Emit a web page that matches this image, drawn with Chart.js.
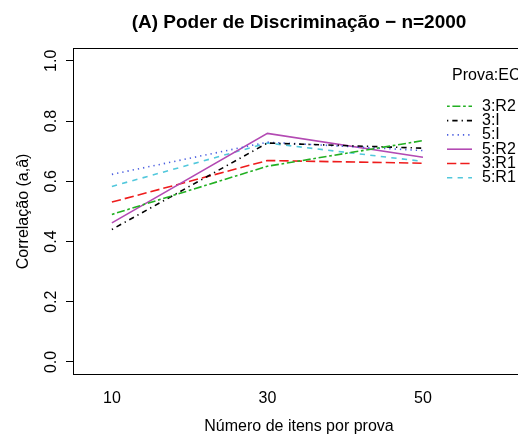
<!DOCTYPE html>
<html>
<head>
<meta charset="utf-8">
<script src="https://cdn.jsdelivr.net/npm/chart.js@4/dist/chart.umd.min.js"></script>
<style>
  html, body { margin: 0; padding: 0; overflow: hidden; background: #fff; }
</style>
</head>
<body>
<canvas id="chart" width="525" height="436"></canvas>
<script>
// data
const itemCounts = ["10", "30", "50"];
const groups = ["3:R2", "3:I", "5:I", "5:R2", "3:R1", "5:R1"];
const r2Prova3 = [0.49, 0.65, 0.735];
const iProva3 = [0.44, 0.727, 0.71];
const iProva5 = [0.623, 0.73, 0.702];
const r2Prova5 = [0.462, 0.759, 0.68];
const r1Prova3 = [0.531, 0.669, 0.66];
const r1Prova5 = [0.583, 0.727, 0.666];
const yTicks = [0, 0.2, 0.4, 0.6, 0.8, 1.0];

const series = [r2Prova3, iProva3, iProva5, r2Prova5, r1Prova3, r1Prova5];
const colors = ["#22b022", "#000000", "#4a5ee0", "#b34ab3", "#ee1c1c", "#52c8dc"];
const dashes = [[2.7, 2.7, 8, 2.7], [1.3, 4, 5.3, 4], [1.3, 4], [], [9.3, 4], [5.3, 5.3]];

const font = "'Liberation Sans', Arial, Helvetica, sans-serif";
Chart.defaults.font.family = font;
Chart.defaults.color = "#000";

// legend drawn like R's interaction.plot legend (inside the plot, top right)
const rLegend = {
  id: "rLegend",
  afterDraw(chart) {
    const { ctx, chartArea } = chart;
    const x0 = chartArea.left + 374;
    ctx.save();
    ctx.font = "16px " + font;
    ctx.fillStyle = "#000";
    ctx.textBaseline = "middle";
    ctx.textAlign = "left";
    ctx.fillText("Prova:EC", x0 + 5, chartArea.top + 27);
    chart.data.datasets.forEach((ds, i) => {
      const y = chartArea.top + 57.5 + i * 14.3;
      ctx.strokeStyle = ds.borderColor;
      ctx.lineWidth = ds.borderWidth;
      ctx.setLineDash(ds.borderDash);
      ctx.beginPath();
      ctx.moveTo(x0, y);
      ctx.lineTo(x0 + 25, y);
      ctx.stroke();
      ctx.setLineDash([]);
      ctx.fillText(ds.label, x0 + 35, y);
    });
    ctx.restore();
  }
};

new Chart(document.getElementById("chart"), {
  type: "line",
  data: {
    datasets: groups.map((g, k) => ({
      label: g,
      data: itemCounts.map((c, i) => ({ x: i + 1, y: series[k][i] })),
      borderColor: colors[k],
      borderWidth: 1.6,
      borderDash: dashes[k],
      pointRadius: 0,
      tension: 0,
      fill: false
    }))
  },
  options: {
    responsive: false,
    animation: false,
    layout: { padding: 0 },
    plugins: {
      legend: { display: false },
      tooltip: { enabled: false },
      title: {
        display: true,
        fullSize: false,
        text: "(A) Poder de Discriminação − n=2000",
        font: { size: 19, weight: "bold" },
        color: "#000",
        padding: { top: 11, bottom: 15 }
      }
    },
    scales: {
      x: {
        type: "linear",
        min: 0.75,
        max: 3.656,
        afterBuildTicks: (s) => { s.ticks = itemCounts.map((c, i) => ({ value: i + 1 })); },
        afterFit: (s) => { s.height = 62; },
        ticks: {
          callback: (v) => itemCounts[v - 1],
          font: { size: 16 },
          padding: 7,
          maxRotation: 0
        },
        grid: { display: false },
        border: { color: "#000", width: 1 },
        title: {
          display: true,
          text: "Número de itens por prova",
          font: { size: 16 },
          padding: { top: 0, bottom: 0 }
        }
      },
      x2: {
        type: "linear",
        position: "top",
        min: 0.75,
        max: 3.656,
        afterFit: (s) => { s.height = 0; },
        ticks: { display: false },
        grid: { display: false },
        border: { color: "#000", width: 1 }
      },
      y: {
        min: -0.04,
        max: 1.04,
        afterBuildTicks: (s) => { s.ticks = yTicks.map((v) => ({ value: v })); },
        afterFit: (s) => { s.width = 73; },
        ticks: {
          callback: (v) => v.toFixed(1),
          font: { size: 16 },
          minRotation: 90,
          maxRotation: 90,
          crossAlign: "center",
          padding: 3
        },
        grid: { drawOnChartArea: false, tickLength: 7, color: "#000", lineWidth: 1 },
        border: { color: "#000", width: 1 },
        title: {
          display: true,
          text: "Correlação (a,â)",
          font: { size: 16 },
          padding: { top: 14, bottom: 0 }
        }
      }
    }
  },
  plugins: [rLegend]
});
</script>
</body>
</html>
